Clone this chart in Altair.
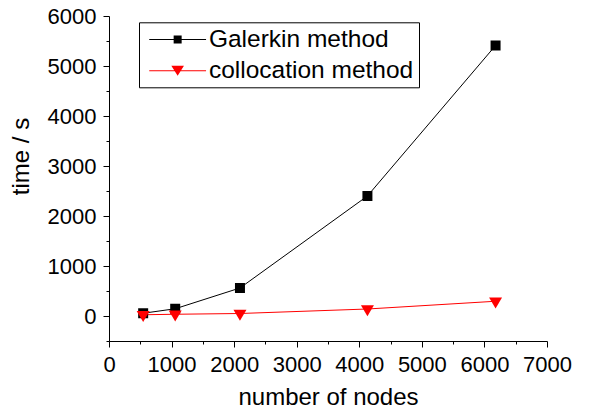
import altair as alt
import pandas as pd

nodes = [546, 1058, 2093, 4130, 6178]
galerkin = [55, 145, 560, 2400, 5410]
collocation = [25, 35, 50, 140, 295]
series = ["Galerkin method", "collocation method"]
colors = ["#000000", "#ff0000"]

x_ticks = list(range(0, 7001, 500))
y_ticks = list(range(-500, 6001, 500))

rows = []
for n, g in zip(nodes, galerkin):
    rows.append({"nodes": n, "time": g, "method": series[0]})
for n, c in zip(nodes, collocation):
    rows.append({"nodes": n, "time": c, "method": series[1]})
df = pd.DataFrame(rows)

FONT = "Liberation Sans"

color_scale = alt.Scale(domain=series, range=colors)

x_enc = alt.X(
    "nodes:Q",
    scale=alt.Scale(domain=[0, 7000], nice=False, zero=False),
    axis=alt.Axis(
        title="number of nodes",
        values=x_ticks,
        labelExpr="datum.value % 1000 === 0 ? datum.label : ''",
        format="d",
        grid=False,
        domainColor="black",
        tickColor="black",
        tickSize={"condition": {"test": "datum.value % 1000 === 0", "value": 6}, "value": 3},
        labelPadding=7,
        labelFont=FONT,
        labelFontSize=22,
        labelColor="black",
        labelFlush=False,
        labelOverlap=False,
        titleFont=FONT,
        titleFontSize=24,
        titleFontWeight="normal",
        titleColor="black",
        titleBaseline="alphabetic",
        titleY=63,
    ),
)
y_enc = alt.Y(
    "time:Q",
    scale=alt.Scale(domain=[-500, 6000], nice=False, zero=False),
    axis=alt.Axis(
        title="time / s",
        values=y_ticks,
        labelExpr="datum.value % 1000 === 0 ? datum.label : ''",
        format="d",
        grid=False,
        domainColor="black",
        tickColor="black",
        tickSize={"condition": {"test": "datum.value % 1000 === 0", "value": 6}, "value": 3},
        labelPadding=7,
        labelFont=FONT,
        labelFontSize=22,
        labelColor="black",
        labelFlush=False,
        labelOverlap=False,
        titleFont=FONT,
        titleFontSize=24,
        titleFontWeight="normal",
        titleColor="black",
        titleAngle=270,
        titleAlign="center",
        titleBaseline="alphabetic",
        titleX=-81,
        titleY=140,
    ),
)

base = alt.Chart(df)

lines = base.mark_line(strokeWidth=1).encode(
    x=x_enc,
    y=y_enc,
    color=alt.Color("method:N", scale=color_scale, legend=None),
    detail="method:N",
)

square_pts = base.transform_filter(alt.datum.method == series[0]).mark_point(
    filled=True, opacity=1, strokeWidth=0, shape="M-1,-1H1V1H-1Z", size=100
).encode(
    x=x_enc,
    y=y_enc,
    color=alt.Color("method:N", scale=color_scale, legend=None),
)
tri_pts = base.transform_filter(alt.datum.method == series[1]).mark_point(
    filled=True, opacity=1, strokeWidth=0, shape="M-1,-0.564L1,-0.564L0,1.128Z", size=169
).encode(
    x=x_enc,
    y=y_enc,
    color=alt.Color("method:N", scale=color_scale, legend=None),
)

legend_shapes = [
    "M-3.55,-0.0625H3.55V0.0625H-3.55Z M-0.5,-0.5H0.5V0.5H-0.5Z",
    "M-3.55,-0.0625H3.55V0.0625H-3.55Z M-0.79,-0.625H0.79L0,0.625Z",
]
legend_def = alt.Legend(
    title=None,
    orient="none",
    legendX=30,
    legendY=6.3,
    strokeColor="black",
    fillColor="white",
    padding=5,
    labelFont=FONT,
    labelFontSize=24.5,
    labelColor="black",
    labelLimit=0,
    symbolSize=256,
    symbolOpacity=1,
    symbolStrokeWidth=0,
    symbolOffset=21.4,
    labelOffset=19,
    rowPadding=6.2,
)
legend_layer = base.mark_point(filled=True, opacity=0, size=256).encode(
    x=x_enc,
    y=y_enc,
    color=alt.Color("method:N", scale=color_scale, legend=legend_def),
    shape=alt.Shape("method:N", scale=alt.Scale(domain=series, range=legend_shapes), legend=legend_def),
)

chart = (
    alt.layer(lines, square_pts, tri_pts, legend_layer)
    .resolve_legend(color="independent", shape="independent")
    .properties(
        width=438,
        height=325,
        autosize="none",
        padding={"left": 101, "top": 8, "right": 30, "bottom": 72},
        background="white",
    )
    .configure_view(strokeWidth=0)
)

chart.save("out.html", embed_options={"renderer": "svg", "actions": False})
